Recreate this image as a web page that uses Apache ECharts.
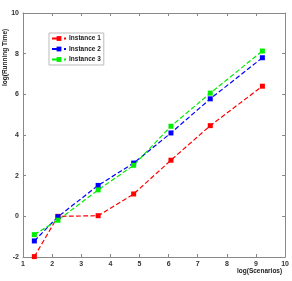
<!DOCTYPE html>
<html><head><meta charset="utf-8">
<script src="https://cdn.jsdelivr.net/npm/echarts@6/dist/echarts.min.js"></script>
<style>html,body{margin:0;padding:0;background:#fff}#c{width:292px;height:281px}</style>
</head><body><div id="c"></div>
<script>
const xVals = [1.39, 2.2, 3.58, 4.8, 6.08, 7.43, 9.22];
const inst1 = [-1.98, 0.0, 0.03, 1.1, 2.76, 4.46, 6.4];
const inst2 = [-1.21, -0.02, 1.52, 2.62, 4.1, 5.78, 7.8];
const inst3 = [-0.9, -0.19, 1.3, 2.51, 4.43, 6.06, 8.13];
const seriesNames = ['Instance 1', 'Instance 2', 'Instance 3'];
const colors = ['#ff0000', '#0000ff', '#00ee00'];
const xTitle = 'log(Scenarios)';
const yTitle = 'log(Running Time)';

const chart = echarts.init(document.getElementById('c'));
const font = 'Liberation Sans';
const axisLine = {show: true, onZero: false, lineStyle: {color: '#888', width: 1}};
const tick = {show: true, inside: true, length: 3, lineStyle: {color: '#888'}};
const mk = (name, data, color) => ({
  name, type: 'line', data: xVals.map((x, i) => [x, data[i]]),
  symbol: 'rect', symbolSize: 5, color,
  lineStyle: {type: 'dashed', width: 1.2, color},
  itemStyle: {color}
});
chart.setOption({
  animation: false,
  grid: {left: 23, right: 6, top: 13, bottom: 24, containLabel: false},
  legend: {
    orient: 'vertical', left: 49, top: 33, itemWidth: 14, itemHeight: 6, itemGap: 3.5,
    padding: [2, 3, 2, 2], borderColor: '#bbb', borderWidth: 1, backgroundColor: '#fff',
    textStyle: {fontFamily: font, fontSize: 6.5, fontWeight: 'bold', color: '#222', padding: [0, 0, 0, -2]},
    data: seriesNames
  },
  xAxis: [
    {type: 'value', min: 1, max: 10, interval: 1, axisLine, axisTick: tick, splitLine: {show: false},
     axisLabel: {fontFamily: font, fontSize: 7, fontWeight: 'bold', color: '#333', margin: 4}},
    {type: 'value', position: 'top', min: 1, max: 10, interval: 1, axisLine, axisTick: tick,
     splitLine: {show: false}, axisLabel: {show: false}}
  ],
  yAxis: [
    {type: 'value', min: -2, max: 10, interval: 2, axisLine, axisTick: tick, splitLine: {show: false},
     axisLabel: {fontFamily: font, fontSize: 7, fontWeight: 'bold', color: '#333', margin: 4}},
    {type: 'value', position: 'right', min: -2, max: 10, interval: 2, axisLine, axisTick: tick,
     splitLine: {show: false}, axisLabel: {show: false}}
  ],
  graphic: [
    {type: 'text', left: 237, top: 268, style: {text: xTitle, font: 'bold 6.5px Liberation Sans', fill: '#222'}},
    {type: 'text', x: 2, y: 86, rotation: Math.PI / 2, style: {text: yTitle, font: 'bold 6.5px Liberation Sans', fill: '#222'}}
  ],
  series: [mk(seriesNames[0], inst1, colors[0]), mk(seriesNames[1], inst2, colors[1]), mk(seriesNames[2], inst3, colors[2])]
});
</script></body></html>
